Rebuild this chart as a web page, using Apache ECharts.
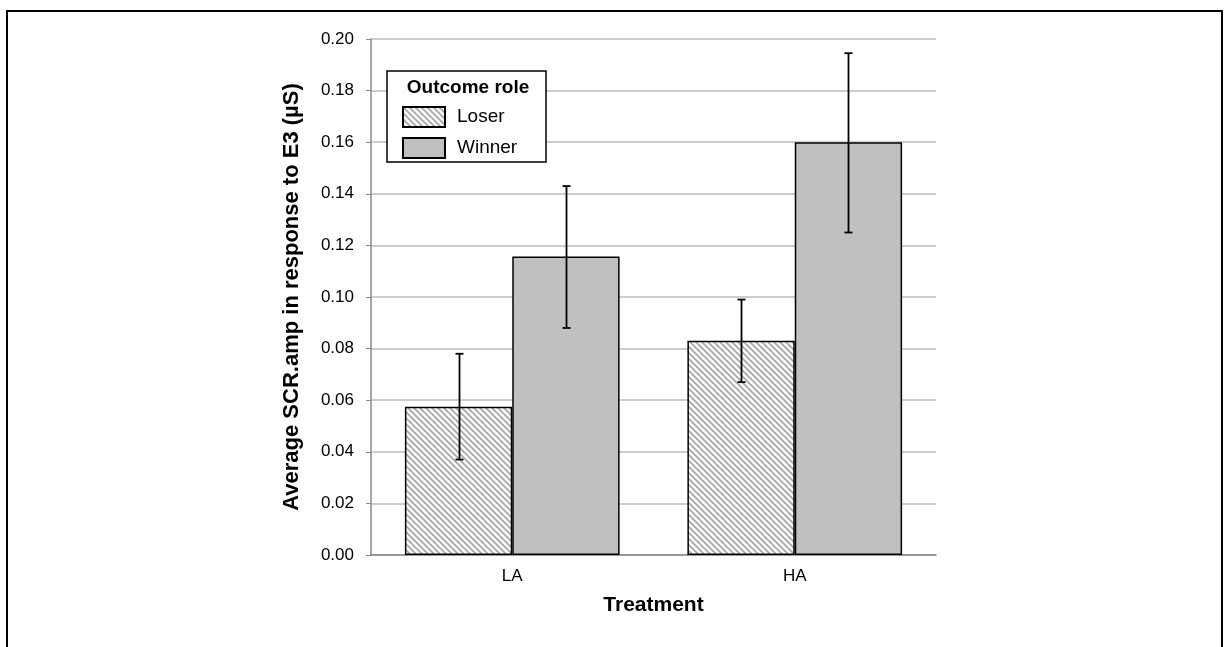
<!DOCTYPE html>
<html>
<head>
<meta charset="utf-8">
<script src="https://cdn.jsdelivr.net/npm/echarts@6/dist/echarts.min.js"></script>
<style>
  html, body { margin: 0; padding: 0; background: #fff; }
  #chart { width: 1226px; height: 647px; }
</style>
</head>
<body>
<div id="chart"></div>
<script>
// data
const categories = ['LA', 'HA'];
const loserValues = [0.0575, 0.083];
const winnerValues = [0.1157, 0.160];
const loserLow = [0.037, 0.067];
const loserHigh = [0.078, 0.099];
const winnerLow = [0.088, 0.125];
const winnerHigh = [0.143, 0.1945];
const yTicks = [0, 0.02, 0.04, 0.06, 0.08, 0.10, 0.12, 0.14, 0.16, 0.18, 0.20];

// hatched fill for the Loser bars
function makeHatch() {
  const c = document.createElement('canvas');
  c.width = 6; c.height = 6;
  const ctx = c.getContext('2d');
  ctx.fillStyle = '#fff';
  ctx.fillRect(0, 0, 6, 6);
  ctx.strokeStyle = '#a6a6a6';
  ctx.lineWidth = 1.7;
  ctx.beginPath();
  ctx.moveTo(-1, -1); ctx.lineTo(7, 7);
  ctx.moveTo(-1, 5); ctx.lineTo(1, 7);
  ctx.moveTo(5, -1); ctx.lineTo(7, 1);
  ctx.stroke();
  return c;
}
const hatch = { image: makeHatch(), repeat: 'repeat' };

const BAR_W = 0.38;

function errorSeries(low, high, side) {
  return {
    type: 'custom',
    silent: true,
    z: 10,
    data: categories.map((c, i) => [i, low[i], high[i]]),
    renderItem: function (params, api) {
      const band = api.size([1, 0])[0];
      const off = side * band * BAR_W / 2;
      const p1 = api.coord([api.value(0), api.value(1)]);
      const p2 = api.coord([api.value(0), api.value(2)]);
      const x = Math.round(p1[0] + off) + 0.5;
      const cap = 4;
      const style = { stroke: '#000', lineWidth: 1.8 };
      return {
        type: 'group',
        children: [
          { type: 'line', shape: { x1: x, y1: p1[1], x2: x, y2: p2[1] }, style: style },
          { type: 'line', shape: { x1: x - cap, y1: p1[1], x2: x + cap, y2: p1[1] }, style: style },
          { type: 'line', shape: { x1: x - cap, y1: p2[1], x2: x + cap, y2: p2[1] }, style: style }
        ]
      };
    }
  };
}

const chart = echarts.init(document.getElementById('chart'));
const font = '"Liberation Sans", Arial, sans-serif';

chart.setOption({
  animation: false,
  textStyle: { fontFamily: font },
  grid: { left: 371, right: 290, top: 39, bottom: 92 },
  graphic: [
    {
      type: 'rect',
      shape: { x: 7, y: 11, width: 1215, height: 660 },
      style: { fill: 'none', stroke: '#000', lineWidth: 2 },
      z: -1
    },
    {
      type: 'rect',
      shape: { x: 387, y: 71, width: 159, height: 91 },
      style: { fill: '#fff', stroke: '#000', lineWidth: 1.5 },
      z: 20
    },
    {
      type: 'text',
      x: 468, y: 88,
      style: {
        text: 'Outcome role', fill: '#000', fontFamily: font,
        fontSize: 19, fontWeight: 'bold', align: 'center', verticalAlign: 'middle'
      },
      z: 21
    }
  ],
  legend: {
    data: ['Loser', 'Winner'],
    orient: 'vertical',
    left: 402,
    top: 106,
    padding: 0,
    icon: 'rect',
    itemWidth: 42,
    itemHeight: 20,
    itemGap: 9,
    z: 22,
    textStyle: { fontSize: 19, color: '#000', fontFamily: font, padding: [0, 0, 0, 7] }
  },
  xAxis: {
    type: 'category',
    data: categories,
    name: 'Treatment',
    nameLocation: 'middle',
    nameGap: 40,
    nameTextStyle: { fontSize: 21, fontWeight: 'bold', color: '#000' },
    axisLine: { lineStyle: { color: '#888', width: 1.5 } },
    axisTick: { show: false },
    axisLabel: { fontSize: 17, color: '#000', margin: 13 }
  },
  yAxis: {
    type: 'value',
    min: yTicks[0],
    max: yTicks[yTicks.length - 1],
    interval: 0.02,
    name: 'Average SCR.amp in response to E3 (µS)',
    nameLocation: 'middle',
    nameGap: 68,
    nameTextStyle: { fontSize: 22, fontWeight: 'bold', color: '#000' },
    axisLine: { show: true, lineStyle: { color: '#888', width: 1.5 } },
    axisTick: { show: true, length: 5, lineStyle: { color: '#888' } },
    axisLabel: {
      fontSize: 17, color: '#000', margin: 17,
      formatter: v => v.toFixed(2)
    },
    splitLine: { lineStyle: { color: '#bdbdbd', width: 1.5 } }
  },
  series: [
    {
      name: 'Loser',
      type: 'bar',
      barWidth: (BAR_W * 100) + '%',
      barGap: '0%',
      data: loserValues,
      itemStyle: { color: hatch, borderColor: '#000', borderWidth: 1.5 }
    },
    {
      name: 'Winner',
      type: 'bar',
      barWidth: (BAR_W * 100) + '%',
      barGap: '0%',
      data: winnerValues,
      itemStyle: { color: '#c0c0c0', borderColor: '#000', borderWidth: 1.5 }
    },
    errorSeries(loserLow, loserHigh, -1),
    errorSeries(winnerLow, winnerHigh, 1)
  ]
});
</script>
</body>
</html>
